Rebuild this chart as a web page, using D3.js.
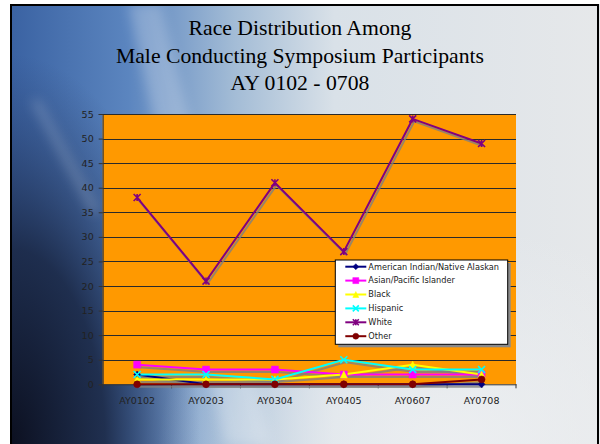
<!DOCTYPE html>
<html>
<head>
<meta charset="utf-8">
<script src="https://cdn.jsdelivr.net/npm/d3@7"></script>
<style>
  html, body { margin: 0; padding: 0; background: #fff; }
  svg { display: block; }
</style>
</head>
<body>
<div id="chart"></div>
<script>
// chart data
var categories = ["AY0102", "AY0203", "AY0304", "AY0405", "AY0607", "AY0708"];
var seriesNames = ["American Indian/Native Alaskan", "Asian/Pacific Islander", "Black", "Hispanic", "White", "Other"];
var americanIndian = [2, 0, 0, 0, 0, 0];
var asianPacific = [4, 3, 3, 2, 2, 2];
var black = [1, 1, 1, 2, 4, 2];
var hispanic = [2, 2, 1, 5, 3, 3];
var white = [38, 21, 41, 27, 54, 49];
var other = [0, 0, 0, 0, 0, 1];
var yTicks = [0, 5, 10, 15, 20, 25, 30, 35, 40, 45, 50, 55];
var titleLines = ["Race Distribution Among", "Male Conducting Symposium Participants", "AY 0102 - 0708"];

var series = [
    {name: seriesNames[0], values: americanIndian, color: "#000080", marker: "diamond"},
    {name: seriesNames[1], values: asianPacific, color: "#ff00ff", marker: "square"},
    {name: seriesNames[2], values: black, color: "#ffff00", marker: "triangle"},
    {name: seriesNames[3], values: hispanic, color: "#00ffff", marker: "x"},
    {name: seriesNames[4], values: white, color: "#800080", marker: "star"},
    {name: seriesNames[5], values: other, color: "#800000", marker: "circle"}
];

var width = 600, height = 444;
var plot = {left: 102.7, right: 516, top: 114, bottom: 384.3};

var svg = d3.select("#chart").append("svg")
    .attr("width", width)
    .attr("height", height);

var defs = svg.append("defs");

// slide background
var bg = defs.append("linearGradient").attr("id", "bgGrad")
    .attr("x1", "0").attr("y1", "0").attr("x2", "1").attr("y2", "0");
[[0, "#3a62a2"], [0.2, "#5b85bf"], [0.38, "#a3bcd6"], [0.55, "#d9e1e8"], [1, "#e6e8ea"]].forEach(function (s) {
    bg.append("stop").attr("offset", s[0]).attr("stop-color", s[1]);
});
// dark, tall corner glow on the lower left
var dark = defs.append("radialGradient").attr("id", "darkGrad")
    .attr("gradientUnits", "userSpaceOnUse")
    .attr("cx", 0).attr("cy", 0).attr("r", 1)
    .attr("gradientTransform", "translate(10,444) scale(190,390)");
dark.append("stop").attr("offset", 0).attr("stop-color", "#0c1020").attr("stop-opacity", 1);
dark.append("stop").attr("offset", 0.5).attr("stop-color", "#1a2744").attr("stop-opacity", 0.9);
dark.append("stop").attr("offset", 1).attr("stop-color", "#2a4070").attr("stop-opacity", 0);

var lightBottom = defs.append("radialGradient").attr("id", "lightBottom")
    .attr("cx", "0.75").attr("cy", "1").attr("r", "0.5");
lightBottom.append("stop").attr("offset", 0).attr("stop-color", "#eef0f2").attr("stop-opacity", 0.9);
lightBottom.append("stop").attr("offset", 1).attr("stop-color", "#eef0f2").attr("stop-opacity", 0);

var blur = defs.append("filter").attr("id", "blur").attr("x", "-50%").attr("y", "-50%")
    .attr("width", "200%").attr("height", "200%");
blur.append("feGaussianBlur").attr("stdDeviation", 6);

var slide = svg.append("g").attr("class", "slide");
slide.append("rect").attr("x", 10).attr("y", 4).attr("width", 590).attr("height", 444)
    .attr("fill", "url(#bgGrad)");
slide.append("rect").attr("x", 10).attr("y", 4).attr("width", 590).attr("height", 444)
    .attr("fill", "url(#darkGrad)");
slide.append("rect").attr("x", 10).attr("y", 4).attr("width", 590).attr("height", 444)
    .attr("fill", "url(#lightBottom)");
// diagonal light streaks
slide.append("path")
    .attr("d", "M128,4 L160,4 L270,444 L225,444 Z")
    .attr("fill", "#ffffff").attr("opacity", 0.22).attr("filter", "url(#blur)");
slide.append("path")
    .attr("d", "M30,100 L40,100 L100,210 L92,215 Z")
    .attr("fill", "#ffffff").attr("opacity", 0.18).attr("filter", "url(#blur)");
slide.append("rect").attr("x", 11).attr("y", 5).attr("width", 587).attr("height", 442)
    .attr("fill", "none").attr("stroke", "#000").attr("stroke-width", 2);

// title
svg.append("g").attr("class", "title")
    .selectAll("text").data(titleLines).enter().append("text")
    .attr("x", 300)
    .attr("y", function (d, i) { return 35 + i * 27.5; })
    .attr("text-anchor", "middle")
    .attr("font-family", "'Liberation Serif', 'Times New Roman', serif")
    .attr("font-size", 21.7)
    .attr("fill", "#000")
    .text(function (d) { return d; });

// scales
var x = d3.scaleBand().domain(categories).range([plot.left, plot.right]).padding(0);
var y = d3.scaleLinear().domain([0, 55]).range([plot.bottom, plot.top]);
var cx = function (i) { return x(categories[i]) + x.bandwidth() / 2; };

// plot area
svg.append("rect")
    .attr("x", plot.left).attr("y", plot.top)
    .attr("width", plot.right - plot.left).attr("height", plot.bottom - plot.top)
    .attr("fill", "#ff9900");

svg.append("g").attr("class", "grid")
    .selectAll("line").data(yTicks.filter(function (d) { return d > 0; })).enter().append("line")
    .attr("x1", plot.left).attr("x2", plot.right)
    .attr("y1", function (d) { return Math.round(y(d)) + 0.5; })
    .attr("y2", function (d) { return Math.round(y(d)) + 0.5; })
    .attr("stroke", "#2a2a2a").attr("stroke-width", 1);

// axes
var font = "'DejaVu Sans', Verdana, sans-serif";
var yAxis = svg.append("g").attr("class", "y-axis")
    .attr("transform", "translate(" + plot.left + ",0)")
    .call(d3.axisLeft(y).tickValues(yTicks).tickSize(4).tickPadding(5));
yAxis.selectAll("text").attr("font-family", font).attr("font-size", 9.5).attr("fill", "#222");
yAxis.selectAll("line, path").attr("stroke", "#333");

var xAxis = svg.append("g").attr("class", "x-axis")
    .attr("transform", "translate(0," + plot.bottom + ")")
    .call(d3.axisBottom(x).tickSize(0).tickPadding(13));
xAxis.selectAll("text").attr("font-family", font).attr("font-size", 9.5).attr("fill", "#222");
xAxis.select("path").attr("stroke", "#333");
// ticks between categories
xAxis.selectAll("line.between").data(d3.range(categories.length + 1)).enter().append("line")
    .attr("class", "between")
    .attr("x1", function (i) { return plot.left + i * x.bandwidth(); })
    .attr("x2", function (i) { return plot.left + i * x.bandwidth(); })
    .attr("y1", 0).attr("y2", 4)
    .attr("stroke", "#333");

// markers
function markerPath(type, size) {
    var h = size / 2;
    switch (type) {
        case "diamond": return "M0," + (-h) + "L" + h + ",0L0," + h + "L" + (-h) + ",0Z";
        case "square": return "M" + (-h) + "," + (-h) + "h" + size + "v" + size + "h" + (-size) + "Z";
        case "triangle": return "M0," + (-h) + "L" + h + "," + h + "L" + (-h) + "," + h + "Z";
        case "x": return "M" + (-h) + "," + (-h) + "L" + h + "," + h + "M" + h + "," + (-h) + "L" + (-h) + "," + h;
        case "star": return "M" + (-h) + "," + (-h) + "L" + h + "," + h + "M" + h + "," + (-h) + "L" + (-h) + "," + h +
            "M0," + (-h) + "L0," + h;
        default: return d3.symbol(d3.symbolCircle, size * size * 0.78)();
    }
}
function drawMarker(g, s, size) {
    var filled = s.marker !== "x" && s.marker !== "star";
    g.append("path")
        .attr("d", markerPath(s.marker, size))
        .attr("fill", filled ? s.color : "none")
        .attr("stroke", s.color)
        .attr("stroke-width", filled ? 0.5 : 1.6);
}

var line = d3.line()
    .x(function (d, i) { return cx(i); })
    .y(function (d) { return y(d); });

var lines = svg.append("g").attr("class", "lines");
// shadows
series.forEach(function (s) {
    lines.append("path").datum(s.values)
        .attr("d", line)
        .attr("transform", "translate(1.5,2.5)")
        .attr("fill", "none").attr("stroke", "#808080").attr("stroke-opacity", 0.8)
        .attr("stroke-width", 2);
});
series.forEach(function (s) {
    lines.append("path").datum(s.values)
        .attr("d", line)
        .attr("fill", "none").attr("stroke", s.color).attr("stroke-width", 2);
});
series.forEach(function (s) {
    s.values.forEach(function (v, i) {
        var g = lines.append("g").attr("transform", "translate(" + cx(i) + "," + y(v) + ")");
        drawMarker(g, s, 7);
    });
});

// legend
var lg = {x: 335.3, y: 260, w: 172.4, h: 84.3};
var legend = svg.append("g").attr("class", "legend");
legend.append("rect").attr("x", lg.x + 3).attr("y", lg.y + 3).attr("width", lg.w).attr("height", lg.h)
    .attr("fill", "#8a8a8a");
legend.append("rect").attr("x", lg.x).attr("y", lg.y).attr("width", lg.w).attr("height", lg.h)
    .attr("fill", "#fff").attr("stroke", "#000").attr("stroke-width", 1);
var rows = legend.selectAll("g.row").data(series).enter().append("g").attr("class", "row")
    .attr("transform", function (d, i) { return "translate(" + lg.x + "," + (lg.y + 6.7 + i * 13.9) + ")"; });
rows.append("line").attr("x1", 10).attr("x2", 31).attr("y1", 0).attr("y2", 0)
    .attr("stroke", function (d) { return d.color; }).attr("stroke-width", 2);
rows.each(function (d) {
    var g = d3.select(this).append("g").attr("transform", "translate(20.5,0)");
    drawMarker(g, d, 6);
});
rows.append("text").attr("x", 33).attr("y", 0).attr("dy", "0.35em")
    .attr("font-family", font).attr("font-size", 8.2).attr("fill", "#222")
    .text(function (d) { return d.name; });
</script>
</body>
</html>
